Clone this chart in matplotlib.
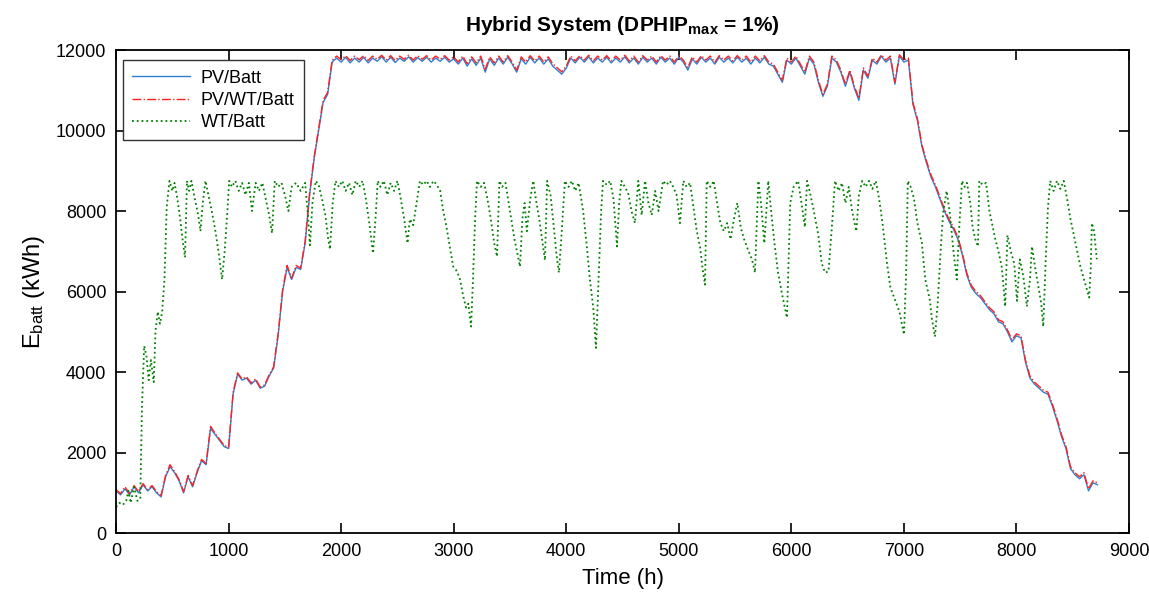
import numpy as np
import matplotlib.pyplot as plt

plt.rcParams['font.family'] = ['Liberation Sans', 'DejaVu Sans']
plt.rcParams['mathtext.fontset'] = 'custom'
plt.rcParams['mathtext.rm'] = 'Liberation Sans'
plt.rcParams['mathtext.it'] = 'Liberation Sans'
plt.rcParams['mathtext.bf'] = 'Liberation Sans:bold'

# PV/Batt and PV/WT/Batt: values read every 40 h (0 .. 8720)
pv_hours = np.arange(0, 8721, 40)
pv_batt = [
    1050, 950, 1100, 950, 1150, 1000, 1200, 1050, 1150, 1000,
    900, 1400, 1650, 1500, 1300, 1000, 1400, 1150, 1500, 1800,
    1700, 2600, 2450, 2300, 2150, 2100, 3450, 3950, 3800, 3850,
    3700, 3800, 3600, 3650, 3900, 4100, 4900, 6000, 6600, 6300,
    6600, 6550, 7200, 8400, 9300, 10000, 10700, 10900, 11700, 11800,
    11700, 11820, 11680, 11800, 11700, 11820, 11680, 11800, 11720, 11830,
    11700, 11820, 11690, 11800, 11720, 11830, 11700, 11810, 11720, 11820,
    11700, 11800, 11720, 11820, 11700, 11780, 11650, 11800, 11600, 11780,
    11620, 11800, 11450, 11780, 11620, 11800, 11650, 11820, 11650, 11450,
    11780, 11650, 11820, 11680, 11800, 11650, 11780, 11600, 11500, 11400,
    11550, 11800, 11680, 11820, 11700, 11830, 11680, 11800, 11700, 11820,
    11680, 11800, 11700, 11830, 11680, 11800, 11650, 11820, 11700, 11800,
    11650, 11820, 11700, 11800, 11650, 11820, 11700, 11500, 11780, 11650,
    11820, 11700, 11800, 11650, 11820, 11700, 11800, 11680, 11820, 11700,
    11800, 11650, 11800, 11680, 11820, 11650, 11600, 11400, 11200, 11750,
    11650, 11800, 11600, 11400, 11800, 11650, 11200, 10850, 11100, 11800,
    11700, 11450, 11100, 11450, 11050, 10750, 11500, 11300, 11750, 11650,
    11850, 11700, 11800, 11150, 11850, 11700, 11750, 10650, 10250, 9600,
    9200, 8850, 8600, 8300, 8000, 7750, 7550, 7300, 6900, 6400,
    6100, 5950, 5850, 5700, 5550, 5450, 5250, 5200, 5000, 4750,
    4900, 4850, 4250, 3850, 3700, 3600, 3500, 3450, 3150, 2800,
    2400, 2100, 1600, 1450, 1350, 1450, 1050, 1250, 1200,
]
pvwt_batt = [
    1080, 980, 1150, 980, 1180, 1030, 1230, 1080, 1180, 1030,
    930, 1430, 1700, 1530, 1330, 1030, 1430, 1180, 1530, 1830,
    1730, 2650, 2480, 2330, 2180, 2130, 3500, 3980, 3830, 3880,
    3730, 3830, 3630, 3680, 3930, 4130, 4950, 6050, 6650, 6330,
    6650, 6580, 7250, 8450, 9350, 10050, 10750, 10950, 11750, 11850,
    11760, 11860, 11740, 11850, 11760, 11860, 11740, 11850, 11770, 11870,
    11750, 11860, 11740, 11850, 11770, 11870, 11750, 11860, 11770, 11860,
    11750, 11850, 11770, 11860, 11750, 11830, 11700, 11850, 11660, 11830,
    11680, 11850, 11520, 11830, 11680, 11850, 11700, 11860, 11700, 11500,
    11830, 11700, 11860, 11730, 11850, 11700, 11830, 11660, 11560, 11460,
    11600, 11850, 11730, 11860, 11750, 11870, 11730, 11850, 11750, 11860,
    11730, 11850, 11750, 11870, 11730, 11850, 11700, 11860, 11750, 11850,
    11700, 11860, 11750, 11850, 11700, 11860, 11750, 11560, 11830, 11700,
    11860, 11750, 11850, 11700, 11860, 11750, 11850, 11730, 11860, 11750,
    11850, 11700, 11850, 11730, 11860, 11700, 11650, 11450, 11250, 11800,
    11700, 11850, 11650, 11450, 11850, 11700, 11250, 10900, 11150, 11850,
    11750, 11500, 11150, 11500, 11100, 10800, 11550, 11350, 11800, 11700,
    11880, 11750, 11850, 11200, 11880, 11750, 11800, 10700, 10300, 9650,
    9250, 8900, 8650, 8350, 8050, 7800, 7600, 7350, 6950, 6450,
    6150, 6000, 5900, 5750, 5600, 5500, 5300, 5250, 5050, 4800,
    4950, 4900, 4300, 3900, 3750, 3650, 3550, 3500, 3200, 2850,
    2450, 2150, 1650, 1500, 1400, 1500, 1100, 1300, 1250,
]

# WT/Batt: turning points
wt_hours = [
    0, 30, 60, 90, 110, 130, 160, 190, 215, 230, 250, 270, 290, 310, 335, 350,
    370, 390, 410, 430, 450, 475, 500, 520, 545, 570, 595, 613, 630, 650, 670,
    700, 730, 750, 770, 795, 820, 850, 883, 910, 942, 965, 987, 1005, 1030,
    1060, 1090, 1120, 1150, 1180, 1208, 1240, 1270, 1300, 1330, 1360, 1386,
    1410, 1440, 1470, 1500, 1531, 1560, 1600, 1640, 1680, 1705, 1723, 1745,
    1775, 1800, 1830, 1860, 1885, 1901, 1925, 1950, 1980, 2010, 2040, 2070,
    2100, 2130, 2160, 2190, 2220, 2250, 2283, 2305, 2325, 2350, 2380, 2410,
    2440, 2470, 2500, 2530, 2560, 2590, 2610, 2640, 2670, 2700, 2730, 2760,
    2790, 2820, 2850, 2880, 2907, 2930, 2960, 2996, 3030, 3056, 3085, 3110,
    3130, 3154, 3170, 3190, 3207, 3240, 3270, 3300, 3330, 3360, 3385, 3406,
    3430, 3460, 3500, 3540, 3589, 3610, 3630, 3650, 3680, 3707, 3730, 3760,
    3790, 3811, 3830, 3860, 3890, 3910, 3935, 3960, 3988, 4020, 4050, 4080,
    4110, 4150, 4180, 4210, 4240, 4264, 4290, 4310, 4327, 4360, 4390, 4420,
    4451, 4470, 4490, 4520, 4550, 4580, 4610, 4640, 4670, 4700, 4730, 4760,
    4790, 4820, 4860, 4890, 4920, 4950, 4980, 5010, 5040, 5070, 5100, 5130,
    5160, 5188, 5210, 5233, 5248, 5280, 5310, 5340, 5370, 5400, 5430, 5460,
    5490, 5520, 5550, 5580, 5620, 5650, 5677, 5707, 5730, 5760, 5795, 5820,
    5850, 5880, 5920, 5961, 5990, 6020, 6060, 6090, 6120, 6140, 6170, 6200,
    6240, 6270, 6299, 6330, 6360, 6388, 6420, 6450, 6480, 6510, 6540, 6577,
    6600, 6630, 6660, 6690, 6720, 6750, 6780, 6810, 6850, 6880, 6920, 6960,
    7001, 7020, 7035, 7060, 7090, 7120, 7160, 7190, 7230, 7250, 7276, 7300,
    7330, 7350, 7380, 7410, 7440, 7470, 7490, 7516, 7540, 7560, 7590, 7610,
    7635, 7658, 7670, 7700, 7730, 7760, 7790, 7812, 7840, 7870, 7900, 7920,
    7950, 7980, 8005, 8030, 8060, 8093, 8120, 8138, 8160, 8190, 8220, 8238,
    8260, 8280, 8300, 8330, 8360, 8390, 8420, 8450, 8480, 8510, 8540, 8570,
    8600, 8630, 8646, 8660, 8670, 8690, 8714,
]
wt_batt = [
    650, 750, 700, 800, 1050, 750, 1150, 800, 850, 3100, 4650, 4400, 3800, 4300, 3750, 5000,
    5500, 5200, 5500, 6300, 8100, 8750, 8500, 8700, 8300, 7800, 7200, 6850, 8750, 8500, 8750,
    8300, 7900, 7500, 8200, 8750, 8400, 8000, 7500, 7000, 6300, 7000, 7900, 8750, 8600,
    8750, 8500, 8700, 8400, 8700, 8000, 8700, 8500, 8700, 8300, 7900, 7450,
    8750, 8600, 8700, 8400, 8000, 8600, 8700, 8500, 8700, 7900, 7150, 8200,
    8750, 8650, 8300, 7900, 7300, 7050, 8200, 8750, 8600, 8750, 8500, 8700,
    8400, 8750, 8600, 8750, 8300, 7700, 6950, 7800, 8750, 8600, 8750, 8400,
    8700, 8500, 8750, 8300, 7800, 7200, 7800, 7650, 8200, 8750, 8650, 8750,
    8600, 8750, 8650, 8500, 8000, 7700, 7200, 6620, 6500, 6300, 5880, 5600,
    5700, 5130, 6200, 7800, 8750, 8600, 8700, 8300, 7800, 7200, 6870, 8750,
    8600, 8700, 8000, 7300, 6620, 7800, 8200, 7500, 8300, 8750, 8300, 7800,
    7200, 6780, 8750, 8400, 7600, 7000, 6470, 7500, 8750, 8600, 8750, 8500,
    8700, 8000, 7200, 6300, 5600, 4600, 6500, 8000, 8750, 8650, 8750, 8300,
    7120, 8200, 8750, 8600, 8450, 8000, 7700, 8750, 7900, 8750, 8200, 7900,
    8500, 8000, 8750, 8650, 8750, 8600, 8400, 7700, 8750, 8600, 8700, 8100,
    7500, 7120, 6600, 6170, 8750, 8600, 8750, 8200, 7700, 7500, 7700, 7300,
    7800, 8200, 7600, 7300, 7000, 6800, 6470, 8750, 8200, 7200, 8750, 8000,
    7200, 6500, 5900, 5350, 8200, 8600, 8750, 8200, 7600, 8750, 8400, 8000,
    7400, 6700, 6470, 6500, 7600, 8750, 8500, 8700, 8200, 8600, 8000, 7500,
    8400, 8750, 8600, 8750, 8550, 8750, 8300, 7700, 6700, 6100, 5800, 5500,
    4930, 6500, 8750, 8600, 8300, 7700, 7200, 6300, 5800, 5300, 4880, 5700,
    7200, 8000, 8500, 7900, 7000, 6300, 7500, 8750, 8600, 8700, 8200, 7600,
    7300, 7120, 8750, 8650, 8700, 8000, 7600, 7300, 7000, 6600, 5630, 7400,
    7000, 6700, 5770, 6800, 6400, 5630, 6300, 7120, 6700, 6200, 5700, 5130,
    6800, 8100, 8750, 8500, 8750, 8550, 8750, 8300, 7800, 7400, 7000, 6600,
    6300, 6000, 5850, 6600, 7700, 7500, 6800,
]

fig, ax = plt.subplots(figsize=(11.49, 5.99), dpi=100)
fig.subplots_adjust(left=0.101, right=0.9826, bottom=0.110, top=0.9165)

ax.plot(pv_hours, pv_batt, color='#2f7fd0', linewidth=1.0, label='PV/Batt')
ax.plot(pv_hours, pvwt_batt, color='#ff2020', linestyle='-.', linewidth=1.0,
        label='PV/WT/Batt')
ax.plot(wt_hours, wt_batt, color='#008000', linestyle=':', linewidth=1.3,
        label='WT/Batt')

ax.set_xlim(0, 9000)
ax.set_ylim(0, 12000)
ax.set_xticks(np.arange(0, 9001, 1000))
ax.set_yticks(np.arange(0, 12001, 2000))
ax.tick_params(direction='in', top=True, right=True, length=7, width=1.2,
               labelsize=13, pad=7)
for s in ax.spines.values():
    s.set_linewidth(1.3)

ax.set_xlabel('Time (h)', fontsize=16, labelpad=6)
ax.set_ylabel('E$_{batt}$ (kWh)', fontsize=17, labelpad=6)
ax.set_title(r'Hybrid System (DPHIP$_{\mathbf{max}}$ = 1%)', fontsize=15,
             fontweight='bold', pad=14)

leg = ax.legend(loc='upper left', fontsize=13, fancybox=False,
                edgecolor='#333333', framealpha=1, handlelength=3.2,
                borderpad=0.5, labelspacing=0.3, handletextpad=0.6,
                bbox_to_anchor=(-0.002, 0.997))
leg.get_frame().set_linewidth(1.0)

fig.savefig('out.png', dpi=100)
